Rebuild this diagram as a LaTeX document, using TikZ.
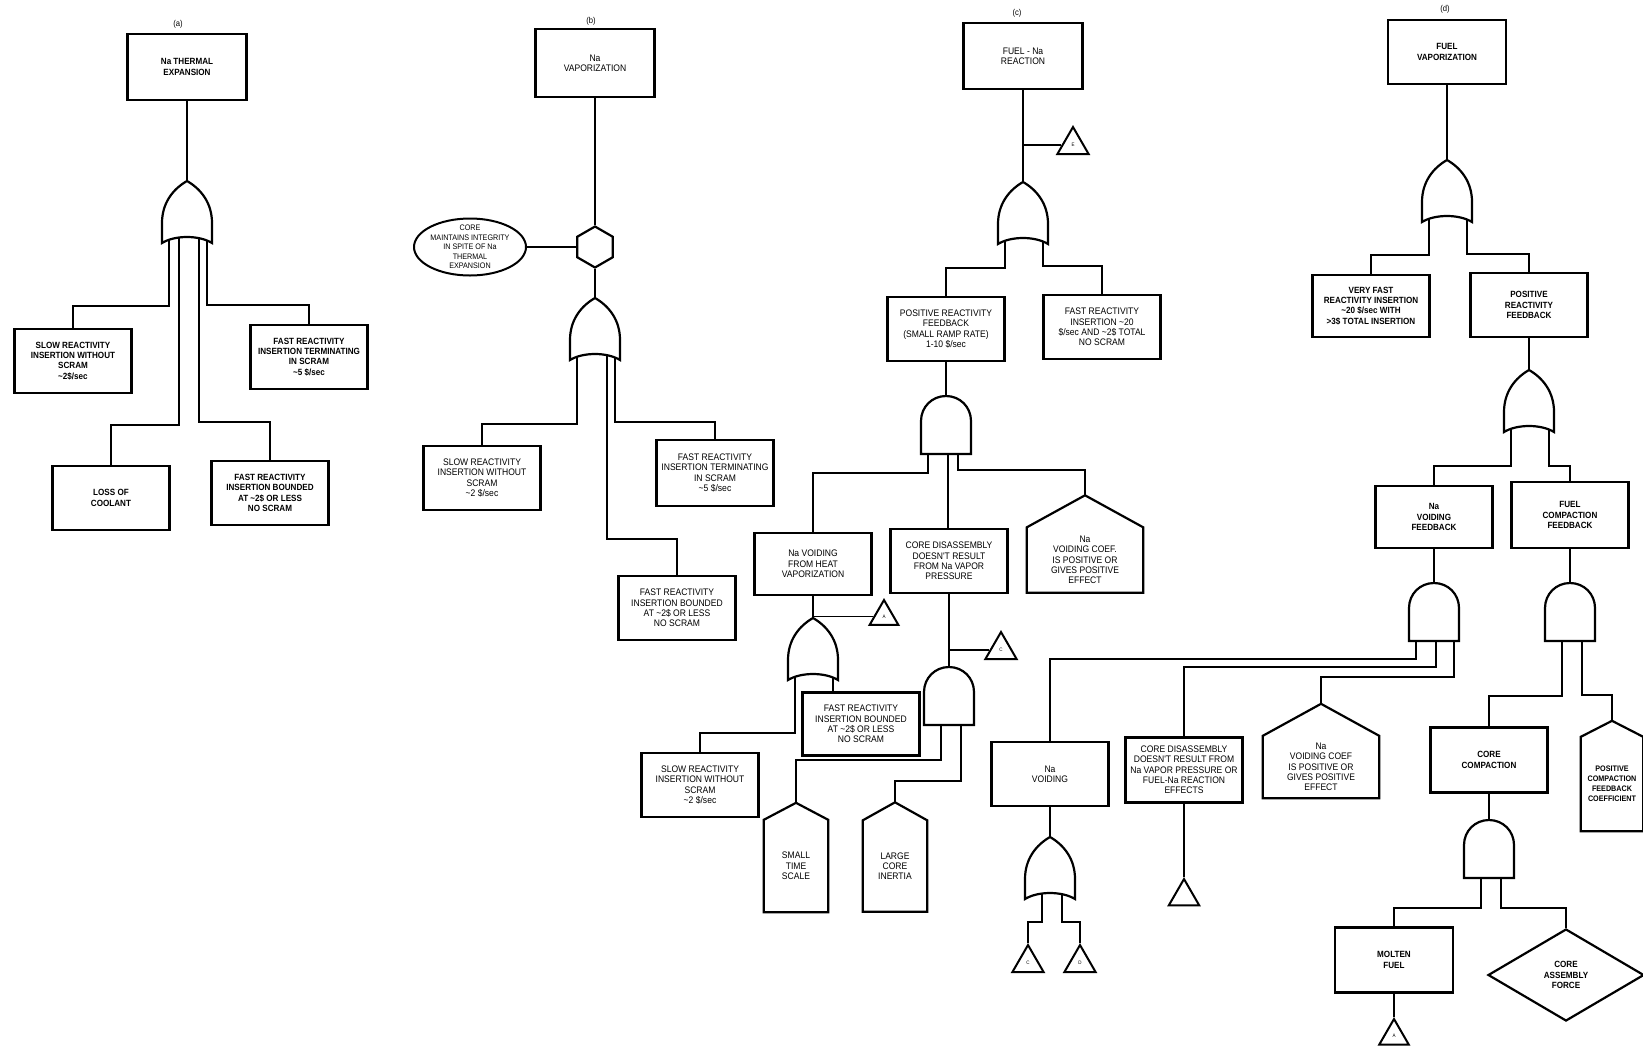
\documentclass[tikz,border=0pt]{standalone}
\usepackage{fontspec}
\newfontfamily\treefont[FakeStretch=0.9]{Liberation Sans}
\usetikzlibrary{shapes.geometric}

\tikzset{
  evt/.style={draw, line width=2.2pt, minimum width=117pt, minimum height=64pt,
    inner sep=2pt, align=center, font=\treefont\fontsize{9.5}{10.3}\selectfont},
  topevt/.style={evt, minimum width=119pt, minimum height=66pt},
  heavy/.style={font=\treefont\bfseries\fontsize{9}{10.3}\selectfont},
  hbody/.style={inner sep=2pt, align=center, font=\treefont\fontsize{9.5}{10.3}\selectfont},
  link/.style={line width=1.6pt},
  gateline/.style={line width=2.2pt},
  transfer/.style={regular polygon, regular polygon sides=3, draw, line width=2pt,
    minimum size=36pt, inner sep=0pt, anchor=north, font=\treefont\fontsize{5}{5}\selectfont},
  tag/.style={font=\treefont\fontsize{8.5}{9}\selectfont},
  orgate/.pic={
    \draw[gateline] (0,0) .. controls (-14,8) and (-25,22) .. (-25,42) -- (-25,62)
      .. controls (-12,54) and (12,54) .. (25,62) -- (25,42)
      .. controls (25,22) and (14,8) .. (0,0) -- cycle;
    \coordinate (-top) at (0,0);
    \coordinate (-l) at (-18,59);
    \coordinate (-ml) at (-8,57);
    \coordinate (-c) at (2,56);
    \coordinate (-mr) at (12,57);
    \coordinate (-r) at (20,59);
  },
  andgate/.pic={
    \draw[gateline] (-25,58) -- (-25,25) .. controls (-25,11) and (-14,0) .. (0,0)
      .. controls (14,0) and (25,11) .. (25,25) -- (25,58) -- cycle;
    \coordinate (-top) at (0,0);
    \coordinate (-l) at (-18,58);
    \coordinate (-ml) at (-8,58);
    \coordinate (-c) at (2,58);
    \coordinate (-mr) at (12,58);
    \coordinate (-r) at (20,58);
  }
}

% house = body node plus a roof drawn over it
\newcommand{\houseroof}[2]{%
  \coordinate (#1-top) at ([yshift=#2]#1.north);
  \draw[gateline] (#1.north west) -- (#1-top) -- (#1.north east)
    -- (#1.south east) -- (#1.south west) -- cycle;}

\begin{document}
\begin{tikzpicture}[x=1pt, y=-1pt]
  \useasboundingbox (0,0) rectangle (1643,1045);

  % (a)
  \node[tag] (taga) at (178,24) {(a)};
  \node[topevt, heavy] (topa) at (187,67) {Na THERMAL\\EXPANSION};
  \pic (ga) at (187,181) {orgate};
  \node[evt, heavy] (slowa) at (73,361) {SLOW REACTIVITY\\INSERTION WITHOUT\\SCRAM\\\textasciitilde2\$/sec};
  \node[evt, heavy] (terma) at (309,357) {FAST REACTIVITY\\INSERTION TERMINATING\\IN SCRAM\\\textasciitilde5 \$/sec};
  \node[evt, heavy] (lossa) at (111,498) {LOSS OF\\COOLANT};
  \node[evt, heavy] (bounda) at (270,493) {FAST REACTIVITY\\INSERTION BOUNDED\\AT \textasciitilde2\$ OR LESS\\NO SCRAM};
  \draw[link] (topa) -- (ga-top);
  \draw[link] (ga-l) -- ++(0,66) -| (slowa.north);
  \draw[link] (ga-r) -- ++(0,65) -| (terma.north);
  \draw[link] (ga-ml) -- ++(0,187) -| (lossa.north);
  \draw[link] (ga-mr) -- ++(0,184) -| (bounda.north);

  % (b)
  \node[tag] (tagb) at (591,21) {(b)};
  \node[topevt, minimum height=68pt] (topb) at (595,63) {Na\\VAPORIZATION};
  \node[draw, line width=2.2pt, regular polygon, regular polygon sides=6,
    shape border rotate=30, minimum size=41pt, inner sep=0pt] (hexb) at (595,247) {};
  \node[draw, ellipse, line width=2pt, minimum width=112pt, minimum height=57pt,
    inner xsep=-10pt, inner ysep=-7pt, align=center,
    font=\treefont\fontsize{8}{9.5}\selectfont] (ellb) at (470,247)
    {CORE\\MAINTAINS INTEGRITY\\IN SPITE OF Na\\THERMAL\\EXPANSION};
  \pic (gb) at (595,298) {orgate};
  \node[evt] (slowb) at (482,478) {SLOW REACTIVITY\\INSERTION WITHOUT\\SCRAM\\\textasciitilde2 \$/sec};
  \node[evt, minimum height=66pt] (termb) at (715,473) {FAST REACTIVITY\\INSERTION TERMINATING\\IN SCRAM\\\textasciitilde5 \$/sec};
  \node[evt] (boundb) at (677,608) {FAST REACTIVITY\\INSERTION BOUNDED\\AT \textasciitilde2\$ OR LESS\\NO SCRAM};
  \draw[link] (topb) -- (hexb);
  \draw[link] (ellb) -- (hexb);
  \draw[link] (hexb) -- (gb-top);
  \draw[link] (gb-l) -- ++(0,67) -| (slowb.north);
  \draw[link] (gb-r) -- ++(0,65) -| (termb.north);
  \draw[link] (gb-mr) -- ++(0,184) -| (boundb.north);

  % (c)
  \node[tag] (tagc) at (1017,13) {(c)};
  \node[topevt] (topc) at (1023,56) {FUEL - Na\\REACTION};
  \pic (gc) at (1023,182) {orgate};
  \node[transfer] (tc1) at (1073,125) {E};
  \node[evt] (posc) at (946,329) {POSITIVE REACTIVITY\\FEEDBACK\\(SMALL RAMP RATE)\\1-10 \$/sec};
  \node[evt] (fastc) at (1102,327) {FAST REACTIVITY\\INSERTION \textasciitilde20\\\$/sec AND \textasciitilde2\$ TOTAL\\NO SCRAM};
  \pic (andc) at (946,396) {andgate};
  \node[evt, minimum height=62pt] (nvhc) at (813,564) {Na VOIDING\\FROM HEAT\\VAPORIZATION};
  \node[evt] (cdc) at (949,561) {CORE DISASSEMBLY\\DOESN'T RESULT\\FROM Na VAPOR\\PRESSURE};
  \node[hbody, minimum width=116pt, minimum height=65pt] (housec) at (1085,560) {Na\\VOIDING COEF.\\IS POSITIVE OR\\GIVES POSITIVE\\EFFECT};
  \houseroof{housec}{32pt}
  \node[transfer, minimum size=33pt] (tc2) at (884,598) {A};
  \pic (orh) at (813,618) {orgate};
  \node[transfer] (tc3) at (1001,630) {C};
  \pic (andcd) at (949,667) {andgate};
  \node[evt] (slowc) at (700,785) {SLOW REACTIVITY\\INSERTION WITHOUT\\SCRAM\\\textasciitilde2 \$/sec};
  \node[evt, minimum height=63pt] (boundc) at (861,724) {FAST REACTIVITY\\INSERTION BOUNDED\\AT \textasciitilde2\$ OR LESS\\NO SCRAM};
  \node[hbody, minimum width=64pt, minimum height=92pt] (housec1) at (796,866) {SMALL\\TIME\\SCALE};
  \houseroof{housec1}{17pt}
  \node[hbody, minimum width=64pt, minimum height=91pt] (housec2) at (895,866) {LARGE\\CORE\\INERTIA};
  \houseroof{housec2}{18pt}
  \draw[link] (topc) -- (gc-top);
  \draw[link] (tc1.west) -- (tc1.west -| gc-top);
  \draw[link] (gc-l) -- ++(0,27) -| (posc.north);
  \draw[link] (gc-r) -- ++(0,25) -| (fastc.north);
  \draw[link] (posc) -- (andc-top);
  \draw[link] (andc-l) -- ++(0,19) -| (nvhc.north);
  \draw[link] (andc-c) -- (andc-c |- cdc.north);
  \draw[link] (andc-mr) -- ++(0,16) -| (housec-top);
  \draw[link] (nvhc) -- (orh-top);
  \draw[link] (tc2.west) -- (tc2.west -| orh-top);
  \draw[link] (orh-l) -- ++(0,56) -| (slowc.north);
  \draw[link] (orh-r) -- (orh-r |- boundc.north);
  \draw[link] (cdc) -- (andcd-top);
  \draw[link] (tc3.west) -- (tc3.west -| andcd-top);
  \draw[link] (andcd-ml) -- ++(0,35) -| (housec1-top);
  \draw[link] (andcd-mr) -- ++(0,56) -| (housec2-top);

  % (d)
  \node[tag] (tagd) at (1445,9) {(d)};
  \node[topevt, heavy, minimum width=118pt, minimum height=64pt] (topd) at (1447,52) {FUEL\\VAPORIZATION};
  \pic (ord) at (1447,160) {orgate};
  \node[evt, heavy, minimum height=62pt] (veryd) at (1371,306) {VERY FAST\\REACTIVITY INSERTION\\\textasciitilde20 \$/sec WITH\\>3\$ TOTAL INSERTION};
  \node[evt, heavy] (posd) at (1529,305) {POSITIVE\\REACTIVITY\\FEEDBACK};
  \pic (orp) at (1529,370) {orgate};
  \node[evt, heavy, minimum height=62pt] (nvfd) at (1434,517) {Na\\VOIDING\\FEEDBACK};
  \node[evt, heavy, minimum height=66pt] (fcfd) at (1570,515) {FUEL\\COMPACTION\\FEEDBACK};
  \pic (andnv) at (1434,583) {andgate};
  \pic (andfc) at (1570,583) {andgate};
  \node[evt] (nvd) at (1050,774) {Na\\VOIDING};
  \node[evt, minimum height=65pt] (cd2) at (1184,770) {CORE DISASSEMBLY\\DOESN'T RESULT FROM\\Na VAPOR PRESSURE OR\\FUEL-Na REACTION\\EFFECTS};
  \node[hbody, minimum width=116pt, minimum height=62pt] (housed) at (1321,767) {Na\\VOIDING COEF\\IS POSITIVE OR\\GIVES POSITIVE\\EFFECT};
  \houseroof{housed}{32pt}
  \pic (ornv) at (1050,837) {orgate};
  \node[transfer] (trida) at (1028,943) {C};
  \node[transfer] (tridb) at (1080,943) {D};
  \node[transfer, minimum size=35pt] (tridc) at (1184,877) {};
  \node[evt, heavy, minimum height=65pt] (ccd) at (1489,760) {CORE\\COMPACTION};
  \node[hbody, minimum width=62pt, minimum height=94pt,
    font=\treefont\bfseries\fontsize{8}{10}\selectfont] (housed2) at (1612,784)
    {POSITIVE\\COMPACTION\\FEEDBACK\\COEFFICIENT};
  \houseroof{housed2}{16pt}
  \pic (andcc) at (1489,820) {andgate};
  \node[evt, heavy, minimum width=118pt, minimum height=65pt] (molten) at (1394,960) {MOLTEN\\FUEL};
  \node[draw, diamond, line width=2.2pt, aspect=1.7, minimum width=156pt, minimum height=92pt,
    inner sep=0pt, align=center, heavy] (diam) at (1566,975)
    {CORE\\ASSEMBLY\\FORCE};
  \node[transfer, minimum size=34pt] (tridd) at (1394,1017) {A};
  \draw[link] (topd) -- (ord-top);
  \draw[link] (ord-l) -- ++(0,36) -| (veryd.north);
  \draw[link] (ord-r) -- ++(0,35) -| (posd.north);
  \draw[link] (posd) -- (orp-top);
  \draw[link] (orp-l) -- ++(0,37) -| (nvfd.north);
  \draw[link] (orp-r) -- ++(0,37) -| (fcfd.north);
  \draw[link] (nvfd) -- (andnv-top);
  \draw[link] (fcfd) -- (andfc-top);
  \draw[link] (andnv-l) -- ++(0,18) -| (nvd.north);
  \draw[link] (andnv-c) -- ++(0,26) -| (cd2.north);
  \draw[link] (andnv-r) -- ++(0,36) -| (housed-top);
  \draw[link] (andfc-ml) -- ++(0,55) -| (ccd.north);
  \draw[link] (andfc-mr) -- ++(0,54) -| (housed2-top);
  \draw[link] (nvd) -- (ornv-top);
  \draw[link] (ornv-ml) -- ++(0,28) -| (trida.north);
  \draw[link] (ornv-mr) -- ++(0,28) -| (tridb.north);
  \draw[link] (cd2) -- (tridc.north);
  \draw[link] (ccd) -- (andcc-top);
  \draw[link] (andcc-ml) -- ++(0,30) -| (molten.north);
  \draw[link] (andcc-mr) -- ++(0,30) -| (diam.north);
  \draw[link] (molten) -- (tridd.north);
\end{tikzpicture}
\end{document}
